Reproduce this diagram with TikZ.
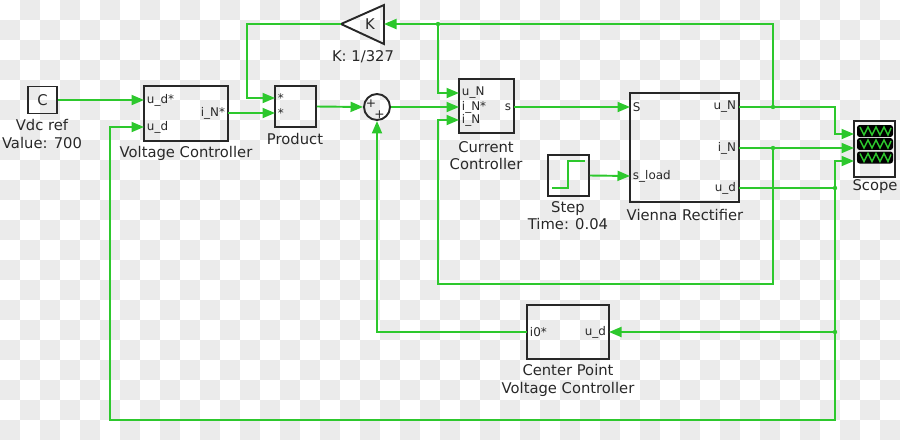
\documentclass[tikz,border=0pt]{standalone}
\usepackage{fontspec}
\setmainfont{DejaVu Sans}
\usetikzlibrary{arrows.meta,calc}

\definecolor{wire}{RGB}{45,200,45}
\definecolor{checker}{RGB}{235,235,235}
\definecolor{ink}{RGB}{40,40,40}

\begin{document}
\begin{tikzpicture}[x=0.02cm, y=-0.02cm,
    block/.style={draw=ink, line width=1.1pt, inner sep=0pt},
    port/.style={font=\fontsize{6.8}{7}\selectfont, text=ink, inner sep=1.5pt},
    lbl/.style={font=\fontsize{8.4}{9.8}\selectfont, text=ink, align=center},
    sig/.style={draw=wire, line width=1.1pt},
    arr/.style={sig, -{Triangle[length=2.5mm, width=2mm]}}]
    \useasboundingbox (0,0) rectangle (900,440);
    \foreach \j in {0,...,21} {
        \pgfmathtruncatemacro{\st}{mod(\j+1,2)}
        \pgfmathtruncatemacro{\nx}{\st+2}
        \foreach \i in {\st,\nx,...,44} {\fill[checker] (\i*20,\j*20) rectangle ++(20,20);}
    }
    \coordinate (kturn) at (247,24);
    \coordinate (uNsplit) at (773,107);
    \coordinate (uNtop) at (773,24);
    \coordinate (uNdrop) at (438,24);
    \coordinate (iNsplit) at (773,148);
    \coordinate (loopR) at (773,284);
    \coordinate (loopL) at (438,284);
    \coordinate (scopeturn) at (835,107);
    \coordinate (udsplit) at (835,188);
    \coordinate (udcp) at (835,332);
    \coordinate (udbot) at (835,420);
    \coordinate (udleft) at (110,420);
    \coordinate (ktip) at (341,24);
    \coordinate (kbase) at (384,24);
    \coordinate (scin1) at (854,134);
    \coordinate (scin2) at (854,148);
    \coordinate (scin3) at (854,161);
    % blocks
    \node[block, lbl, minimum width=0.58cm, minimum height=0.54cm] (vdc) at (42.5,100) {C};
    \node[block, minimum width=1.68cm, minimum height=1.1cm] (vc) at (186,113.5) {};
    \node[block, minimum size=0.82cm] (prod) at (295.5,106.5) {};
    \node[block, circle, minimum size=0.52cm] (sum) at (377,107) {};
    \draw[ink, line width=1.1pt] (ktip) -- (384,5) -- (384,44) -- cycle;
    \node[lbl] (kgain) at (370,24) {K};
    \node[block, minimum width=1.1cm, minimum height=1.08cm] (cc) at (486.5,106) {};
    \node[block, minimum size=0.82cm] (step) at (568.5,175.5) {};
    \node[block, minimum size=2.18cm] (vienna) at (684.5,147.5) {};
    \node[block, minimum width=0.82cm, minimum height=1.12cm] (scope) at (874.5,149) {};
    \node[block, minimum width=1.64cm, minimum height=1.08cm] (cpvc) at (568,332) {};
    % block insides
    \draw[wire, line width=1pt] (552,188) -- (568,188) -- (568,161) -- (585,161);
    \foreach \yy in {131,144,157.5} {
        \fill[black, rounded corners=1.5pt] (857,\yy-6) rectangle (893,\yy+6);
        \draw[wire, line width=0.8pt] (860,\yy-4) -- (864,\yy+4) -- (868,\yy-4) -- (872,\yy+4)
            -- (876,\yy-4) -- (880,\yy+4) -- (884,\yy-4) -- (888,\yy+4) -- (891,\yy-3);
    }
    \node[font=\fontsize{7}{7}\selectfont, text=ink, inner sep=0pt] (plusa) at (371,104) {+};
    \node[font=\fontsize{7}{7}\selectfont, text=ink, inner sep=0pt] (plusb) at (379.5,114.5) {+};
    % ports
    \node[port, right] (vcin1) at (144,100) {u\_d*};
    \node[port, right] (vcin2) at (144,127) {u\_d};
    \node[port, left] (vcout) at (228,113) {i\_N*};
    \node[port, right] (prodin1) at (275,98) {*};
    \node[port, right] (prodin2) at (275,113) {*};
    \node[port, right] (ccin1) at (459,93) {u\_N};
    \node[port, right] (ccin2) at (459,107) {i\_N*};
    \node[port, right] (ccin3) at (459,120) {i\_N};
    \node[port, left] (ccout) at (514,107) {s};
    \node[port, right] (vnin1) at (630,107) {S};
    \node[port, right] (vnin2) at (630,176) {s\_load};
    \node[port, left] (vnout1) at (739,107) {u\_N};
    \node[port, left] (vnout2) at (739,148) {i\_N};
    \node[port, left] (vnout3) at (739,188) {u\_d};
    \node[port, right] (cpout) at (527,332) {i0*};
    \node[port, left] (cpin) at (609,332) {u\_d};
    % labels
    \node[lbl] (vdclbl) at (42,134) {Vdc ref\\Value: 700};
    \node[lbl] (vclbl) at (186,153) {Voltage Controller};
    \node[lbl] (prodlbl) at (295,139) {Product};
    \node[lbl] (klbl) at (363,57) {K: 1/327};
    \node[lbl] (cclbl) at (486,155.5) {Current\\Controller};
    \node[lbl] (steplbl) at (568,216) {Step\\Time: 0.04};
    \node[lbl] (vnlbl) at (685,215) {Vienna Rectifier};
    \node[lbl] (scopelbl) at (875,187) {Scope};
    \node[lbl] (cplbl) at (568,380.5) {Center Point\\Voltage Controller};
    % wires
    \draw[arr] (vdc.east) -- (vcin1.west);
    \draw[arr] (vcout.east) -- (prodin2.west);
    \draw[arr] (ktip) -- (kturn) |- (prodin1.west);
    \draw[arr] (prod.east) -- (sum.west);
    \draw[arr] (sum.east) -- (ccin2.west);
    \draw[arr] (vnout1.east) -- (scopeturn) |- (scin1);
    \draw[arr] (uNsplit) -- (uNtop) -- (kbase);
    \draw[arr] (uNdrop) |- (ccin1.west);
    \draw[arr] (vnout2.east) -- (scin2);
    \draw[arr] (iNsplit) -- (loopR) -- (loopL) |- (ccin3.west);
    \draw[arr] (vnout3.east) -- (udsplit) |- (scin3);
    \draw[arr] (udsplit) -- (udcp) -- (cpin.east);
    \draw[arr] (udcp) -- (udbot) -- (udleft) |- (vcin2.west);
    \draw[arr] (cpout.west) -| (sum.south);
    \draw[arr] (ccout.east) -- (vnin1.west);
    \draw[arr] (step.east) -- (vnin2.west);
    \foreach \p in {uNsplit,uNdrop,iNsplit,udsplit,udcp} {\fill[wire] (\p) circle (2.2);}
\end{tikzpicture}
\end{document}
